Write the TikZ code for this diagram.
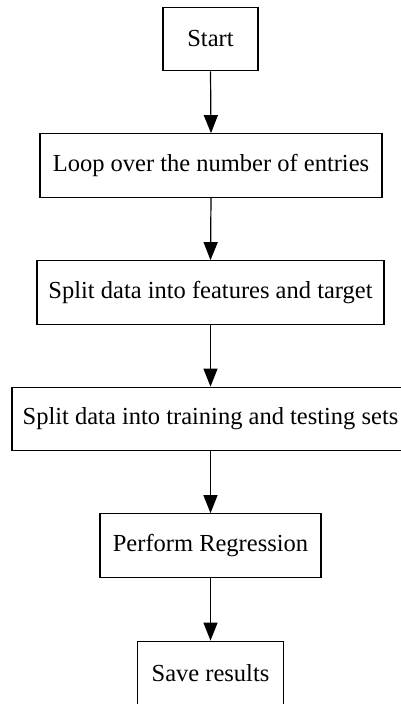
\documentclass[tikz,border=0pt]{standalone}
\usepackage{fontspec}
\setmainfont{Liberation Serif}
\usetikzlibrary{arrows.meta}
\begin{document}
\begin{tikzpicture}[x=1pt,y=-1pt,
  stepbox/.style={draw=black, line width=1.2pt, rectangle, inner sep=0pt,
    minimum height=63.5pt, font=\fontsize{24.5}{29}\selectfont},
  flow/.style={draw=black, line width=1.2pt, -{Triangle[width=14pt,length=18pt]}}]
  \useasboundingbox (0,0) rectangle (401,704);
  \node[stepbox, minimum width=95pt]  (start)  at (210.5,39)    {Start};
  \node[stepbox, minimum width=342pt] (loop)   at (211,165.5)   {Loop over the number of entries};
  \node[stepbox, minimum width=347pt] (feat)   at (210.5,292.5) {Split data into features and target};
  \node[stepbox, minimum width=397pt] (train)  at (210.5,419)   {Split data into training and testing sets};
  \node[stepbox, minimum width=221pt] (regr)   at (210.5,545.5) {Perform Regression};
  \node[stepbox, minimum width=146pt] (save)   at (210.5,673)   {Save results};
  \draw[flow] (start.south) -- (loop.north);
  \draw[flow] (loop.south)  -- (feat.north);
  \draw[flow] (feat.south)  -- (train.north);
  \draw[flow] (train.south) -- (regr.north);
  \draw[flow] (regr.south)  -- (save.north);
\end{tikzpicture}
\end{document}
